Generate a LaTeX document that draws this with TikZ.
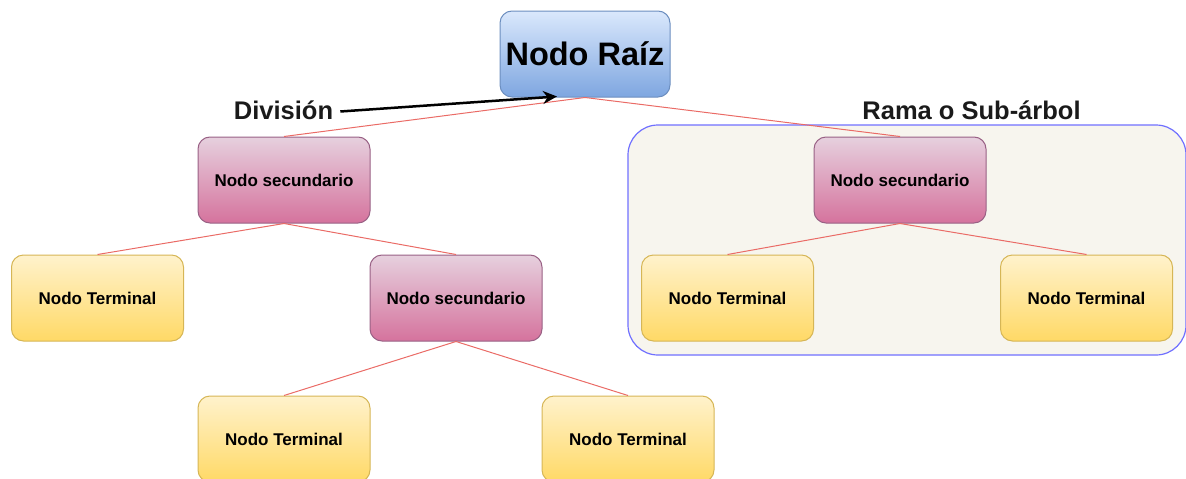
\documentclass[tikz,border=0pt]{standalone}
\usepackage{fontspec}
\setmainfont{Liberation Sans}
\usetikzlibrary{arrows.meta}

\definecolor{rootTop}{HTML}{DAE8FC}
\definecolor{rootBot}{HTML}{7EA6E0}
\definecolor{rootLine}{HTML}{6C8EBF}
\definecolor{secTop}{HTML}{E6D0DE}
\definecolor{secBot}{HTML}{D5739D}
\definecolor{secLine}{HTML}{996185}
\definecolor{termTop}{HTML}{FFF2CC}
\definecolor{termBot}{HTML}{FFD966}
\definecolor{termLine}{HTML}{D6B656}
\definecolor{edgeRed}{HTML}{EA6B66}
\definecolor{groupFill}{HTML}{F7F5EE}
\definecolor{groupLine}{HTML}{7070FF}
\definecolor{labelInk}{HTML}{1A1A1A}

\tikzset{
  treebox/.style={rounded corners=12pt, line width=1pt, minimum width=172pt,
    minimum height=86pt, inner sep=0pt, font=\fontsize{17}{20}\selectfont\bfseries},
  rootbox/.style={treebox, minimum width=170pt, top color=rootTop, bottom color=rootBot,
    draw=rootLine, font=\fontsize{32.5}{36}\selectfont\bfseries},
  secbox/.style={treebox, top color=secTop, bottom color=secBot, draw=secLine},
  termbox/.style={treebox, top color=termTop, bottom color=termBot, draw=termLine},
  branch/.style={draw=edgeRed, line width=1pt},
  caption/.style={text=labelInk, font=\fontsize{25.5}{30}\selectfont\bfseries, inner sep=0pt},
  pointer/.style={draw=black, line width=2.5pt, -{Stealth[length=14pt, width=13pt]}}
}

\begin{document}
\begin{tikzpicture}[x=1pt, y=-1pt]
  \useasboundingbox (0,0) rectangle (1186,479);

  % sub-tree frame
  \path[fill=groupFill, draw=groupLine, line width=1.2pt, rounded corners=30pt]
    (628,125) rectangle (1186,355);

  % nodes
  \node[rootbox] (root) at (585,54) {Nodo Raíz};
  \node[secbox] (secA) at (284,180) {Nodo secundario};
  \node[termbox] (termA) at (97.5,298) {Nodo Terminal};
  \node[secbox] (secB) at (456,298) {Nodo secundario};
  \node[termbox] (termB) at (284,439) {Nodo Terminal};
  \node[termbox] (termC) at (628,439) {Nodo Terminal};
  \node[secbox] (secC) at (900,180) {Nodo secundario};
  \node[termbox] (termD) at (727.5,298) {Nodo Terminal};
  \node[termbox] (termE) at (1086.5,298) {Nodo Terminal};

  % branches
  \draw[branch] (root.south) -- (secA.north);
  \draw[branch] (root.south) -- (secC.north);
  \draw[branch] (secA.south) -- (termA.north);
  \draw[branch] (secA.south) -- (secB.north);
  \draw[branch] (secB.south) -- (termB.north);
  \draw[branch] (secB.south) -- (termC.north);
  \draw[branch] (secC.south) -- (termD.north);
  \draw[branch] (secC.south) -- (termE.north);

  % captions
  \node[caption] (split) at (283.5,110) {División};
  \node[caption] (branchlbl) at (971.5,110) {Rama o Sub-árbol};

  \coordinate (splitTip) at (557,96.5);
  \draw[pointer] ([xshift=7pt,yshift=-1.5pt]split.east) -- (splitTip);
\end{tikzpicture}
\end{document}
